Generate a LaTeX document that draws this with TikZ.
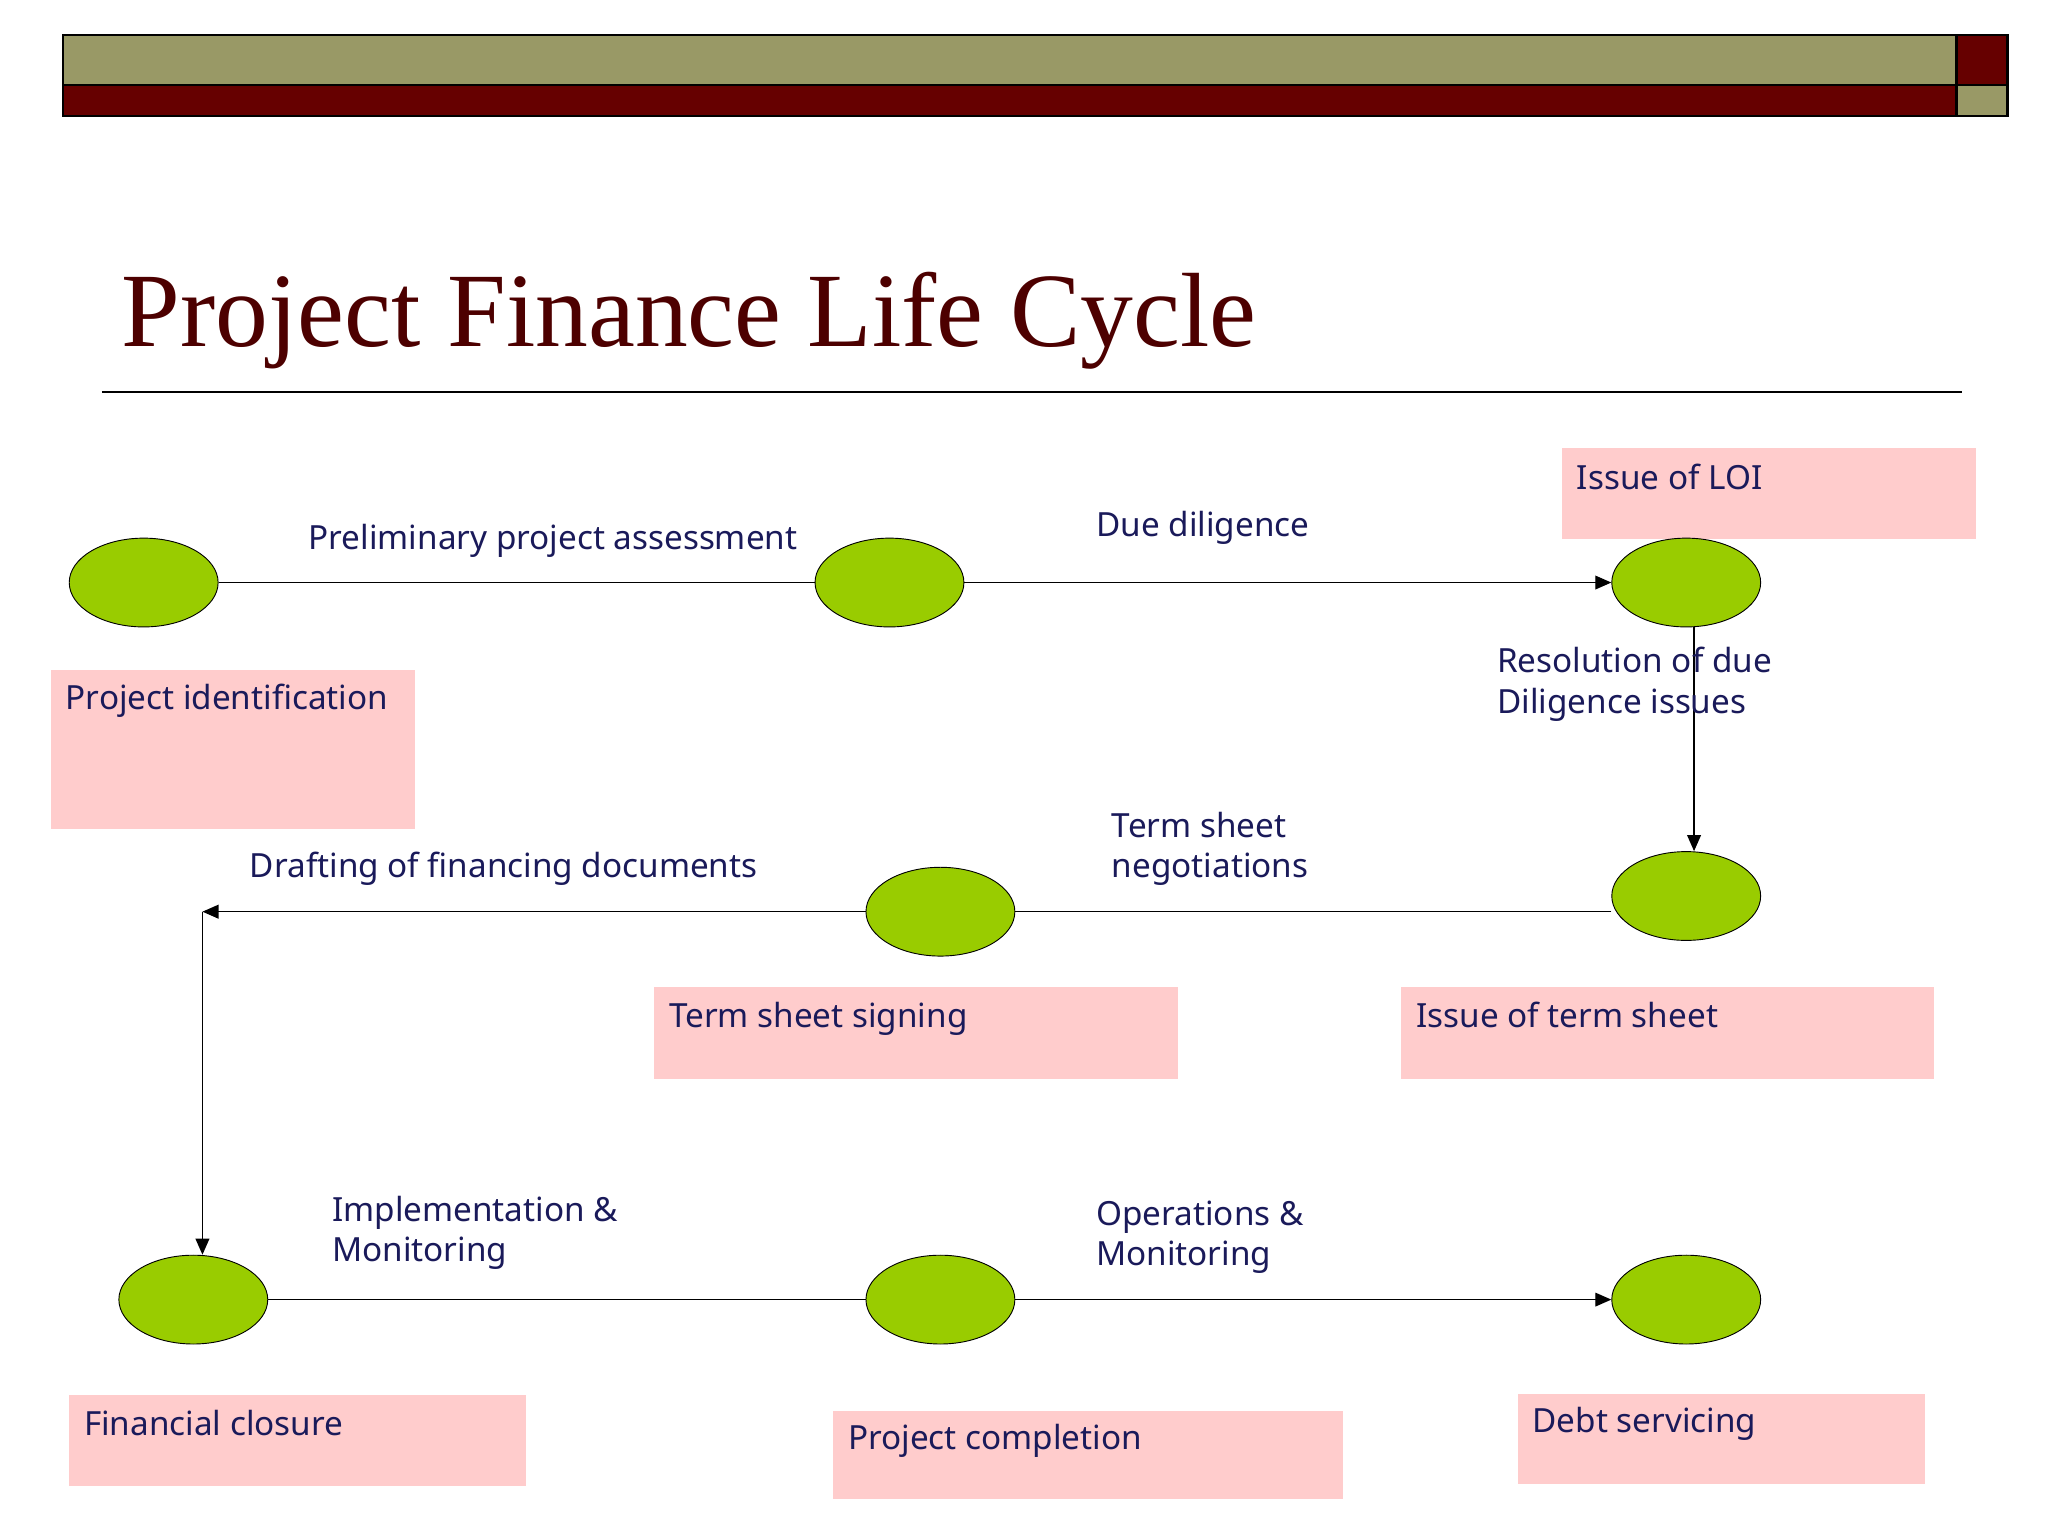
\documentclass[tikz,border=0pt]{standalone}
\usepackage{fontspec}
\setmainfont{Noto Sans}
\newfontfamily\titlefont{Liberation Serif}
\usetikzlibrary{arrows.meta,shapes.geometric}
\definecolor{olive}{HTML}{999966}
\definecolor{dred}{HTML}{660000}
\definecolor{tred}{HTML}{4D0000}
\definecolor{pinkbox}{HTML}{FFCCCC}
\definecolor{navy}{HTML}{1A1A5A}
\definecolor{lime}{HTML}{99CC00}
\tikzset{
 x=0.02cm,y=-0.02cm,
 ell/.style={ellipse,draw=black,fill=lime,minimum width=2.28cm,minimum height=1.36cm,inner sep=0},
 lbl/.style={text=navy,font=\fontsize{14.5}{17.6}\selectfont,align=left,inner sep=0},
 pbox/.style={fill=pinkbox,draw=none},
 con/.style={draw=black,line width=0.6pt},
 arr/.style={con,-{Triangle[length=7pt,width=6pt]}}
}
\begin{document}
\begin{tikzpicture}
\useasboundingbox (0,0) rectangle (1568,1176);
\fill[white] (0,0) rectangle (1568,1176);
% top bar
\filldraw[fill=olive,draw=black,line width=1pt] (48,27) rectangle (1498,65);
\filldraw[fill=dred,draw=black,line width=1pt] (48,65) rectangle (1498,89);
\filldraw[fill=dred,draw=black,line width=1pt] (1498,27) rectangle (1537,65);
\filldraw[fill=olive,draw=black,line width=1pt] (1498,65) rectangle (1537,89);
\node[anchor=base west,inner sep=0,text=tred,font=\titlefont\fontsize{46}{50}\selectfont] (title) at (93,265) {Project Finance Life Cycle};
\draw[line width=1pt] (78,300) -- (1502,300);
% pink boxes
\fill[pbox] (1196,343) rectangle (1513,413);
\fill[pbox] (39,513) rectangle (318,635);
\fill[pbox] (501,756) rectangle (902,826);
\fill[pbox] (1073,756) rectangle (1481,826);
\fill[pbox] (53,1068) rectangle (403,1138);
\fill[pbox] (638,1080) rectangle (1028,1148);
\fill[pbox] (1162,1067) rectangle (1474,1136);
\node[lbl,anchor=base west] (b1) at (1207,375) {Issue of LOI};
\node[lbl,anchor=base west] (b2) at (50,543) {Project identification};
\node[lbl,anchor=base west] (b3) at (512,787) {Term sheet signing};
\node[lbl,anchor=base west] (b4) at (1084,787) {Issue of term sheet};
\node[lbl,anchor=base west] (b5) at (64,1099) {Financial closure};
\node[lbl,anchor=base west] (b6) at (649,1110) {Project completion};
\node[lbl,anchor=base west] (b7) at (1173,1097) {Debt servicing};
% ellipses
\node[ell] (e1) at (110,446) {};
\node[ell] (e2) at (681,446) {};
\node[ell] (e3) at (1291,446) {};
\node[ell] (e4) at (1291,686) {};
\node[ell] (e5) at (720,698) {};
\node[ell] (e6) at (148,995) {};
\node[ell] (e7) at (720,995) {};
\node[ell] (e8) at (1291,995) {};
\coordinate (c1) at (155,698);
% connectors
\draw[con] (e1.east) -- (e2.west);
\draw[arr] (e2.east) -- (e3.west);
\draw[arr] (e3.south -| 1297,0) -- (e4.north -| 1297,0);
\draw[con] (e4.west |- 0,698) -- (e5.east |- 0,698);
\draw[arr] (e5.west |- 0,698) -- (c1);
\draw[arr] (c1) -- (e6.north -| c1);
\draw[con] (e6.east) -- (e7.west);
\draw[arr] (e7.east) -- (e8.west);
% labels
\node[lbl,anchor=base west] (l1) at (236,421) {Preliminary project assessment};
\node[lbl,anchor=base west] (l2) at (839,411) {Due diligence};
\node[lbl,anchor=base west] (l3) at (1146,546) {Resolution of due\\Diligence issues};
\node[lbl,anchor=base west] (l4) at (191,672) {Drafting of financing documents};
\node[lbl,anchor=base west] (l5) at (851,672) {Term sheet\\negotiations};
\node[lbl,anchor=base west] (l6) at (254,966) {Implementation \&\\Monitoring};
\node[lbl,anchor=base west] (l7) at (839,969) {Operations \&\\Monitoring};
\end{tikzpicture}
\end{document}
